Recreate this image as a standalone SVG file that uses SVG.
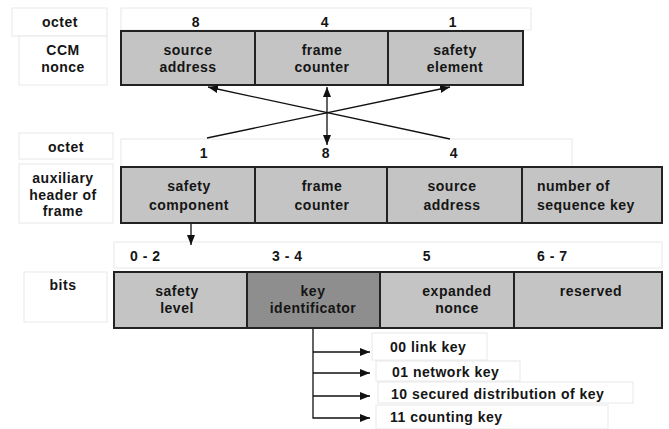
<svg xmlns="http://www.w3.org/2000/svg" width="669" height="429" viewBox="0 0 669 429">
<defs>
<style>
text{font-family:"Liberation Sans",Arial,sans-serif;font-weight:bold;font-size:14px;fill:#151515;letter-spacing:0.5px}
.c{text-anchor:middle}
.faint{fill:#fff;stroke:#e8e8e8;stroke-width:1}
.cell{fill:#c4c4c4;stroke:#222;stroke-width:2}
.dark{fill:#8e8e8e;stroke:#222;stroke-width:2}
.ln{stroke:#111;stroke-width:1.3;fill:none}
</style>
<marker id="ah" viewBox="0 0 10 8" refX="10" refY="4" markerWidth="10" markerHeight="8" markerUnits="userSpaceOnUse" orient="auto"><path d="M0,0 L10,4 L0,8 Z" fill="#111"/></marker>
<marker id="ahs" viewBox="0 0 10 8" refX="0" refY="4" markerWidth="10" markerHeight="8" markerUnits="userSpaceOnUse" orient="auto"><path d="M10,0 L0,4 L10,8 Z" fill="#111"/></marker>
</defs>
<rect width="669" height="429" fill="#fff"/>

<g id="ccm-row">
<rect class="faint" x="12" y="8" width="95" height="28"/>
<text class="c" x="60" y="27">octet</text>
<rect class="faint" x="121" y="8" width="410" height="22"/>
<text class="c" x="196" y="27">8</text>
<text class="c" x="325" y="27">4</text>
<text class="c" x="453" y="27">1</text>
<rect class="faint" x="19" y="36" width="88" height="49"/>
<text class="c" x="63" y="55">CCM</text>
<text class="c" x="63" y="72">nonce</text>
</g>
<g id="ccm-source-address"><rect class="cell" x="121" y="31" width="134" height="54"/><text class="c" x="188" y="55">source</text><text class="c" x="188" y="72">address</text></g>
<g id="ccm-frame-counter"><rect class="cell" x="255" y="31" width="133" height="54"/><text class="c" x="322" y="55">frame</text><text class="c" x="322" y="72">counter</text></g>
<g id="ccm-safety-element"><rect class="cell" x="388" y="31" width="135" height="54"/><text class="c" x="455" y="55">safety</text><text class="c" x="455" y="72">element</text></g>

<g id="aux-row">
<rect class="faint" x="19" y="133" width="94" height="26"/>
<text class="c" x="66" y="152">octet</text>
<rect class="faint" x="121" y="139" width="451" height="28"/>
<text class="c" x="204" y="158">1</text>
<text class="c" x="326" y="158">8</text>
<text class="c" x="454" y="158">4</text>
<rect class="faint" x="19" y="164" width="94" height="59"/>
<text class="c" x="63" y="183">auxiliary</text>
<text class="c" x="63" y="200">header of</text>
<text class="c" x="63" y="216">frame</text>
</g>
<g id="aux-safety-component"><rect class="cell" x="121" y="167" width="134" height="56"/><text class="c" x="189" y="191">safety</text><text class="c" x="189" y="210">component</text></g>
<g id="aux-frame-counter"><rect class="cell" x="255" y="167" width="132" height="56"/><text class="c" x="322" y="191">frame</text><text class="c" x="322" y="210">counter</text></g>
<g id="aux-source-address"><rect class="cell" x="387" y="167" width="135" height="56"/><text class="c" x="452" y="191">source</text><text class="c" x="452" y="210">address</text></g>
<g id="aux-number-of-sequence-key"><rect class="cell" x="522" y="167" width="140" height="56"/><text x="537" y="191">number of</text><text x="537" y="210">sequence key</text></g>

<g id="bits-row">
<rect class="faint" x="114" y="242" width="548" height="26"/>
<text x="130" y="261">0  - 2</text>
<text x="272" y="261">3 - 4</text>
<text class="c" x="427" y="261">5</text>
<text x="537" y="261">6 - 7</text>
<rect class="faint" x="24" y="272" width="83" height="50"/>
<text class="c" x="63" y="290">bits</text>
</g>
<g id="bits-safety-level"><rect class="cell" x="114" y="272" width="133" height="56"/><text class="c" x="177" y="296">safety</text><text class="c" x="177" y="313">level</text></g>
<g id="bits-key-identificator"><rect class="dark" x="247" y="272" width="133" height="56"/><text class="c" x="313" y="296">key</text><text class="c" x="313" y="313">identificator</text></g>
<g id="bits-expanded-nonce"><rect class="cell" x="380" y="272" width="134" height="56"/><text class="c" x="457" y="296">expanded</text><text class="c" x="457" y="313">nonce</text></g>
<g id="bits-reserved"><rect class="cell" x="514" y="272" width="148" height="56"/><text class="c" x="591" y="296">reserved</text></g>

<g id="key-00"><rect class="faint" x="372" y="333" width="115" height="27"/><text x="390" y="352">00 link key</text></g>
<g id="key-01"><rect class="faint" x="376" y="361" width="144" height="20"/><text x="392" y="377">01 network key</text></g>
<g id="key-10"><rect class="faint" x="378" y="382" width="255" height="21"/><text x="391" y="399">10 secured distribution of key</text></g>
<g id="key-11"><rect class="faint" x="376" y="405" width="232" height="24"/><text x="390" y="422">11 counting  key</text></g>

<g id="connectors">
<line class="ln" x1="207" y1="138" x2="450" y2="87" marker-end="url(#ah)"/>
<line class="ln" x1="450" y1="139" x2="208" y2="87" marker-end="url(#ah)"/>
<line class="ln" x1="327" y1="87" x2="327" y2="145" marker-start="url(#ahs)" marker-end="url(#ah)"/>
<line class="ln" x1="191" y1="224" x2="191" y2="245" marker-end="url(#ah)"/>
<polyline class="ln" points="313,329 313,418 370,418" marker-end="url(#ah)"/>
<line class="ln" x1="313" y1="352" x2="370" y2="352" marker-end="url(#ah)"/>
<line class="ln" x1="313" y1="373" x2="370" y2="373" marker-end="url(#ah)"/>
<line class="ln" x1="313" y1="396" x2="370" y2="396" marker-end="url(#ah)"/>
</g>
</svg>
